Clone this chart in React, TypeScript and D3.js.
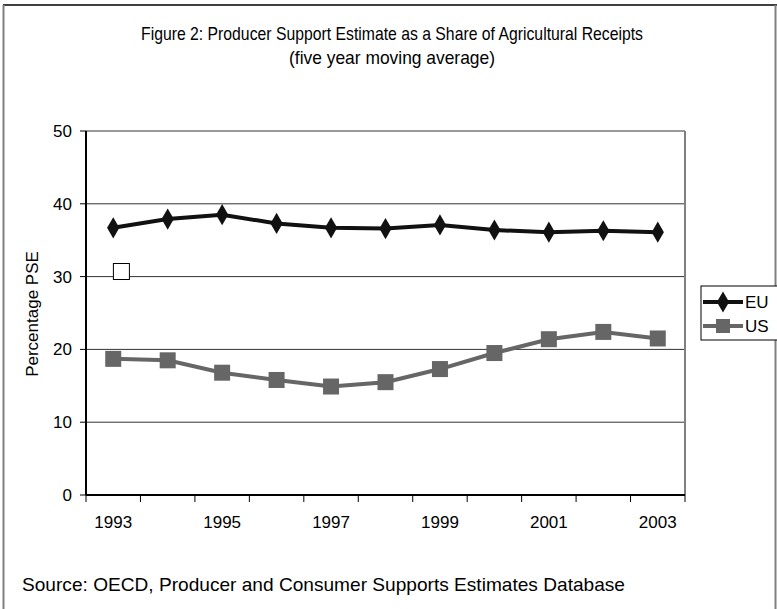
import React from "react";
import * as d3 from "d3";

const years = [1993, 1994, 1995, 1996, 1997, 1998, 1999, 2000, 2001, 2002, 2003];
const euValues = [36.7, 37.9, 38.5, 37.3, 36.7, 36.6, 37.1, 36.4, 36.1, 36.3, 36.1];
const usValues = [18.7, 18.5, 16.8, 15.8, 14.9, 15.5, 17.3, 19.5, 21.4, 22.4, 21.5];
const yTicks = [0, 10, 20, 30, 40, 50];
const xLabelYears = [1993, 1995, 1997, 1999, 2001, 2003];
const strayPoint = { year: 1993, offset: 0.15, value: 30.7 };
const seriesNames = ["EU", "US"];

const W = 777;
const H = 609;
const plot = { left: 86, right: 685, top: 131, bottom: 495 };
const FONT = "'Liberation Sans', Arial, sans-serif";

export default function App() {
  const x = d3.scaleBand<number>().domain(years).range([plot.left, plot.right]).padding(0);
  const y = d3.scaleLinear().domain([0, 50]).range([plot.bottom, plot.top]);
  const cx = (yr: number) => (x(yr) as number) + x.bandwidth() / 2;

  const line = d3
    .line<number>()
    .x((_, i) => cx(years[i]))
    .y((d) => y(d));

  const boundaries = years.map((yr) => x(yr) as number).concat([plot.right]);
  const diamond = d3.symbol(d3.symbolDiamond, 130)();
  const sq = 16;

  const legendX = 701;
  const legendY = 286;
  const euY = 302;
  const usY = 326;

  return (
    <svg
      width={W}
      height={H}
      style={{ position: "absolute", left: 0, top: 0, background: "#fff" }}
      fontFamily={FONT}
    >
      <rect x={0} y={0} width={W} height={H} fill="#fff" />
      {/* outer chart border */}
      <line x1={3} y1={5} x2={W} y2={5} stroke="#000" strokeWidth={1.5} />
      <line x1={3.5} y1={5} x2={3.5} y2={H} stroke="#808080" strokeWidth={2} />
      <line x1={775.5} y1={5} x2={775.5} y2={H} stroke="#808080" strokeWidth={2} />

      {/* title */}
      <text x={392} y={40} textAnchor="middle" fontSize={19} fill="#000" textLength={502} lengthAdjust="spacingAndGlyphs">
        Figure 2: Producer Support Estimate as a Share of Agricultural Receipts
      </text>
      <text x={392} y={64} textAnchor="middle" fontSize={19} fill="#000" textLength={206} lengthAdjust="spacingAndGlyphs">
        (five year moving average)
      </text>

      {/* gridlines */}
      {yTicks.filter((t) => t > 0).map((t) => (
        <line key={t} x1={plot.left} x2={plot.right} y1={y(t)} y2={y(t)} stroke="#333" strokeWidth={1} />
      ))}
      {/* plot right border */}
      <line x1={plot.right} x2={plot.right} y1={plot.top} y2={plot.bottom} stroke="#808080" strokeWidth={2} />

      {/* y axis */}
      <line x1={plot.left} x2={plot.left} y1={plot.top} y2={plot.bottom} stroke="#000" strokeWidth={2} />
      {yTicks.map((t) => (
        <g key={t}>
          <line x1={plot.left - 6} x2={plot.left} y1={y(t)} y2={y(t)} stroke="#000" strokeWidth={1} />
          <text x={72} y={y(t)} dy="0.35em" textAnchor="end" fontSize={17} fill="#000">
            {t}
          </text>
        </g>
      ))}
      <text
        transform={`translate(38,314) rotate(-90)`}
        textAnchor="middle"
        fontSize={17}
        fill="#000"
      >
        Percentage PSE
      </text>

      {/* x axis */}
      <line x1={plot.left} x2={plot.right} y1={plot.bottom} y2={plot.bottom} stroke="#000" strokeWidth={2} />
      {boundaries.map((b, i) => (
        <line key={i} x1={b} x2={b} y1={plot.bottom} y2={plot.bottom + 7} stroke="#000" strokeWidth={1} />
      ))}
      {xLabelYears.map((yr) => (
        <text key={yr} x={cx(yr)} y={528} textAnchor="middle" fontSize={17} fill="#000">
          {yr}
        </text>
      ))}

      {/* US series */}
      <path d={line(usValues) || ""} fill="none" stroke="#666666" strokeWidth={4} />
      {usValues.map((v, i) => (
        <rect key={i} x={cx(years[i]) - sq / 2} y={y(v) - sq / 2} width={sq} height={sq} fill="#666666" />
      ))}

      {/* EU series */}
      <path d={line(euValues) || ""} fill="none" stroke="#111" strokeWidth={4} />
      {euValues.map((v, i) => (
        <path key={i} d={diamond || ""} transform={`translate(${cx(years[i])},${y(v)})`} fill="#111" />
      ))}

      {/* stray marker */}
      <rect
        x={cx(strayPoint.year) + strayPoint.offset * x.bandwidth() - sq / 2}
        y={y(strayPoint.value) - sq / 2}
        width={sq}
        height={sq}
        fill="#fff"
        stroke="#000"
        strokeWidth={1}
      />

      {/* legend */}
      <rect x={legendX} y={legendY} width={W - legendX + 5} height={54} fill="#fff" stroke="#000" strokeWidth={1} />
      <line x1={legendX + 2} x2={legendX + 42} y1={euY} y2={euY} stroke="#111" strokeWidth={4} />
      <path d={diamond || ""} transform={`translate(${legendX + 22},${euY})`} fill="#111" />
      <text x={legendX + 44} y={euY} dy="0.35em" fontSize={17} fill="#000">
        {seriesNames[0]}
      </text>
      <line x1={legendX + 2} x2={legendX + 42} y1={usY} y2={usY} stroke="#666666" strokeWidth={4} />
      <rect x={legendX + 22 - 7} y={usY - 7} width={14} height={14} fill="#666666" />
      <text x={legendX + 44} y={usY} dy="0.35em" fontSize={17} fill="#000">
        {seriesNames[1]}
      </text>

      {/* source */}
      <text x={22} y={591} fontSize={19} fill="#000" textLength={603} lengthAdjust="spacingAndGlyphs">
        Source: OECD, Producer and Consumer Supports Estimates Database
      </text>
    </svg>
  );
}
